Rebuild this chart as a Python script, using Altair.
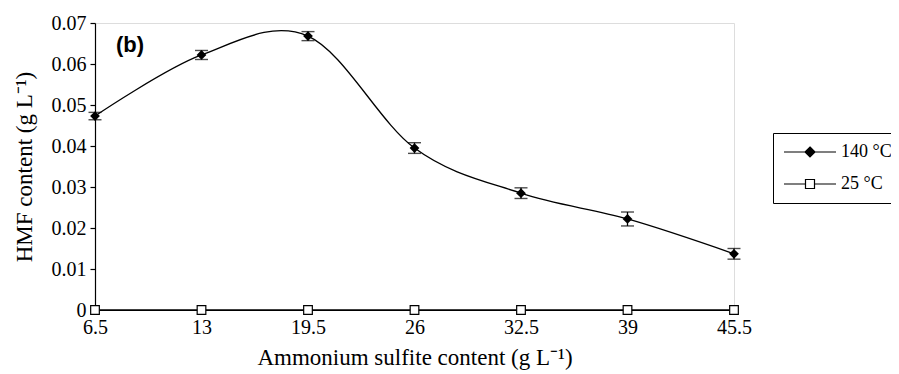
import altair as alt
import pandas as pd

# ---- data ----
x_vals = [6.5, 13, 19.5, 26, 32.5, 39, 45.5]
hmf_140 = [0.0473, 0.0622, 0.0668, 0.0395, 0.0285, 0.0222, 0.0137]
err_140 = [0.0009, 0.0011, 0.0011, 0.0013, 0.0013, 0.0017, 0.0013]
hmf_25 = [0.0, 0.0, 0.0, 0.0, 0.0, 0.0, 0.0]
series_names = ["140 °C", "25 °C"]
y_ticks = [0, 0.01, 0.02, 0.03, 0.04, 0.05, 0.06, 0.07]
panel_label = ["(b)"]

rows = []
for xv, yv, ev in zip(x_vals, hmf_140, err_140):
    rows.append({"x": xv, "y": yv, "lo": yv - ev, "hi": yv + ev, "series": series_names[0]})
for xv, yv in zip(x_vals, hmf_25):
    rows.append({"x": xv, "y": yv, "lo": yv, "hi": yv, "series": series_names[1]})
df = pd.DataFrame(rows)

SERIF = "Liberation Serif"
FS = 20
TFS = 23
xs = alt.Scale(domain=[6.5, 45.5], nice=False, zero=False)
ys = alt.Scale(domain=[0, 0.07], nice=False, zero=False)
xax = alt.Axis(values=x_vals, format=".3~g", title="Ammonium sulfite content (g L⁻¹)",
               ticks=False, grid=False, labelPadding=7, titlePadding=9, labelFlush=False,
               labelFont=SERIF, labelFontSize=FS, titleFont=SERIF, titleFontSize=TFS,
               titleFontWeight="normal", labelColor="black", titleColor="black",
               domainColor="black", domainWidth=1.2)
yax = alt.Axis(values=y_ticks, format=".2~f", title="HMF content (g L⁻¹)",
               grid=False, tickSize=5, tickColor="black", tickWidth=1.2, labelPadding=4,
               titlePadding=15, labelFlush=False, labelFont=SERIF, labelFontSize=FS, titleFont=SERIF,
               titleFontSize=TFS, titleFontWeight="normal", labelColor="black",
               titleColor="black", domainColor="black", domainWidth=1.2)

X = alt.X("x:Q", scale=xs, axis=xax)

def Yf(field):
    return alt.Y(field, scale=ys, axis=yax)

base = alt.Chart(df)
hot = base.transform_filter(alt.datum.series == series_names[0])
cold = base.transform_filter(alt.datum.series == series_names[1])

lines = base.mark_line(interpolate="cardinal", tension=0, color="black", strokeWidth=1.3).encode(
    X, Yf("y:Q"), detail="series:N")
err_rule = hot.mark_rule(color="black", strokeWidth=1.3).encode(X, Yf("lo:Q"), y2="hi:Q")
cap_lo = hot.mark_tick(orient="horizontal", size=13, thickness=1.4, color="black").encode(X, Yf("lo:Q"))
cap_hi = hot.mark_tick(orient="horizontal", size=13, thickness=1.4, color="black").encode(X, Yf("hi:Q"))
pts_hot = hot.mark_point(shape="diamond", filled=True, color="black", size=95, opacity=1).encode(X, Yf("y:Q"))
pts_cold = cold.mark_point(shape="square", fill="white", stroke="black", strokeWidth=1.2,
                           size=75, opacity=1).encode(X, Yf("y:Q"))

path_hot = "M-5.2,0L5.2,0M0,-1L1,0L0,1L-1,0Z"
path_cold = "M-5.2,0L-0.9,0M0.9,0L5.2,0M-0.9,-0.9L0.9,-0.9L0.9,0.9L-0.9,0.9Z"
leg = alt.Legend(title=None, orient="none", legendX=678, legendY=110, strokeColor="black",
                 fillColor="white", padding=10, cornerRadius=0, labelFont=SERIF, labelFontSize=18,
                 labelColor="black", symbolOffset=18, labelOffset=22, rowPadding=14,
                 symbolSize=100, symbolStrokeWidth=1.2, symbolStrokeColor="black")
legend_layer = base.transform_filter("false").mark_point(strokeWidth=1.2, size=100, opacity=1).encode(
    X, Yf("y:Q"),
    shape=alt.Shape("series:N", scale=alt.Scale(domain=series_names, range=[path_hot, path_cold]), legend=leg),
    fill=alt.Fill("series:N", scale=alt.Scale(domain=series_names, range=["black", "white"]), legend=leg),
    stroke=alt.Stroke("series:N", scale=alt.Scale(domain=series_names, range=["black", "black"]), legend=leg),
)

label = alt.Chart(pd.DataFrame({"t": panel_label})).mark_text(
    font="Liberation Sans", fontWeight="bold", fontSize=22, color="black", align="center", baseline="middle"
).encode(text="t:N", x=alt.value(35), y=alt.value(22))

chart = alt.layer(lines, err_rule, cap_lo, cap_hi, pts_cold, pts_hot, legend_layer, label).properties(
    width=639, height=287,
    autosize=alt.AutoSizeParams(type="none"),
    padding={"left": 87, "top": 15, "right": 157, "bottom": 62},
).configure_view(stroke=None).configure(background="white")

chart.save("out.html", embed_options={"renderer": "svg", "actions": False})
